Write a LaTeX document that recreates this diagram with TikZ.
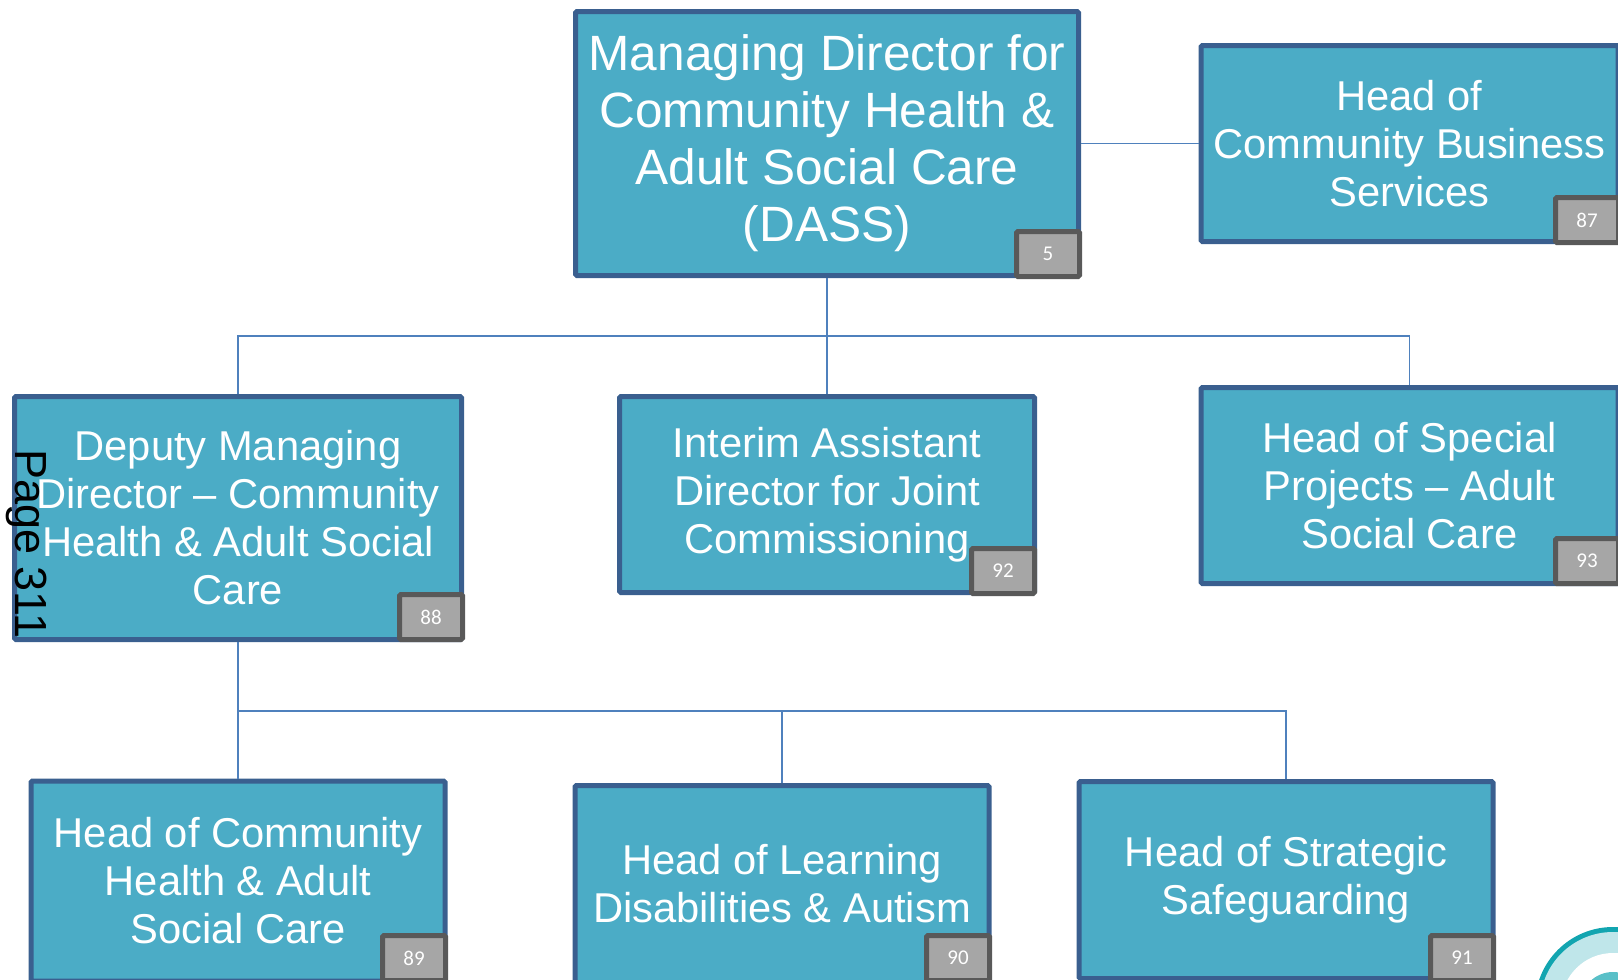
\documentclass[tikz,border=0pt]{standalone}
\usepackage{fontspec}
\setmainfont{Liberation Sans}
\newfontfamily\badgefont{Carlito}
\definecolor{boxfill}{HTML}{4BACC6}
\definecolor{boxline}{HTML}{3A5F8F}
\definecolor{linkline}{HTML}{4F81BD}
\definecolor{badgefill}{HTML}{A6A6A6}
\definecolor{badgeline}{HTML}{595959}
\definecolor{logoteal}{HTML}{12A5B0}
\definecolor{logopale}{HTML}{BFE6EA}

\begin{document}
\begin{tikzpicture}[x=1pt, y=-1pt,
	main/.style = {draw=boxline, fill=boxfill, line width=5pt, rounded corners=1.5pt, text=white, align=center, inner sep=0pt, font=\fontsize{41.7}{48}\selectfont},
	badge/.style = {draw=badgeline, fill=badgefill, line width=5pt, rounded corners=1.5pt, text=white, inner sep=0pt, minimum width=63pt, minimum height=45pt, font=\badgefont\fontsize{21}{24}\selectfont},
	link/.style = {draw=linkline, line width=1.6pt}]
	\clip[use as bounding box] (0,0) rectangle (1618,980);

	\node[main, minimum width=503pt, minimum height=264pt, font=\fontsize{49.6}{57}\selectfont] (dass) at (827,143.5) {Managing Director for\\Community Health \&\\Adult Social Care\\(DASS)};
	\node[main, minimum width=417pt, minimum height=196pt] (business) at (1409.5,143.5) {Head of\\Community Business\\Services};
	\node[main, minimum width=447pt, minimum height=243pt] (deputy) at (238,518) {Deputy Managing\\Director -- Community\\Health \& Adult Social\\Care};
	\node[main, minimum width=415pt, minimum height=196pt] (interim) at (827,494.5) {Interim Assistant\\Director for Joint\\Commissioning};
	\node[main, minimum width=417pt, minimum height=196pt] (special) at (1409.5,485.5) {Head of Special\\Projects -- Adult\\Social Care};
	\node[main, minimum width=414pt, minimum height=200pt] (community) at (238,881) {Head of Community\\Health \& Adult\\Social Care};
	\node[main, minimum width=414pt, minimum height=197pt] (learning) at (782,884) {Head of Learning\\Disabilities \& Autism};
	\node[main, minimum width=414pt, minimum height=197pt] (strategic) at (1286,880) {Head of Strategic\\Safeguarding};

	\node[badge] (b5) at (1048,254) {5};
	\node[badge] (b87) at (1587,220) {87};
	\node[badge] (b88) at (431,617) {88};
	\node[badge] (b92) at (1003,571) {92};
	\node[badge] (b93) at (1587,561) {93};
	\node[badge] (b89) at (414,958) {89};
	\node[badge] (b90) at (958,958) {90};
	\node[badge] (b91) at (1462,958) {91};

	\coordinate (topbus) at (827,336);
	\coordinate (lowbus) at (238,711);
	\draw[link] (dass) -- (business);
	\draw[link] (dass) -- (interim);
	\draw[link] (deputy.north) |- (topbus) -| (special.north);
	\draw[link] (deputy) -- (community);
	\draw[link] (lowbus) -| (learning.north);
	\draw[link] (lowbus) -| (strategic.north);

	% logo
	\fill[logoteal] (1613,1005) circle (78);
	\fill[logopale] (1613,1005) circle (73);
	\fill[white] (1613,1005) circle (52);
	\fill[logoteal!70] (1613,1005) circle (33);

	\node[rotate=-90, inner sep=0pt, font=\fontsize{45}{50}\selectfont] (page) at (27,544) {Page 311};
\end{tikzpicture}
\end{document}
